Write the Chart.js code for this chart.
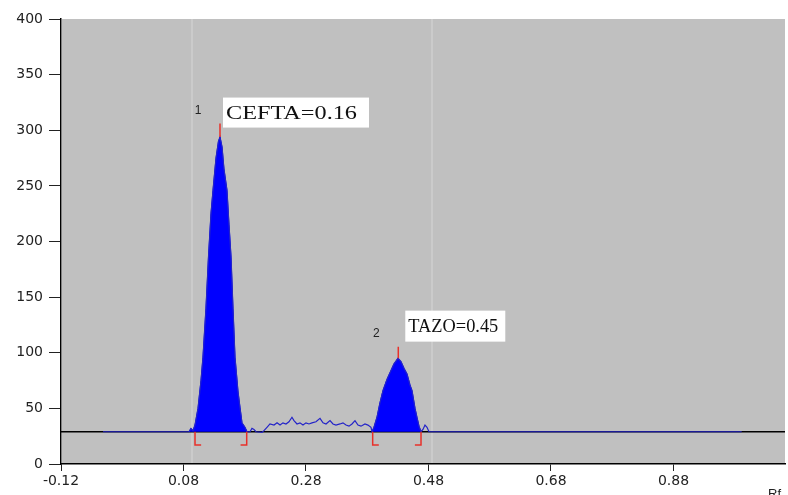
<!DOCTYPE html>
<html>
<head>
<meta charset="utf-8">
<script src="https://cdn.jsdelivr.net/npm/chart.js@4/dist/chart.umd.min.js"></script>
<style>
  body { margin: 0; background: #fff; }
  #wrap { width: 788px; height: 495px; }
</style>
</head>
<body>
<div id="wrap"><canvas id="tlc"></canvas></div>
<script>
// axis
const xMin = -0.12, xMax = 1.0621;
const xTickValues = [-0.12, 0.08, 0.28, 0.48, 0.68, 0.88];
const baseline = 29;
const trackLines = [0.0939, 0.4857];

// densitogram trace (Rf, AU)
const leadRf = [-0.0514];
const leadY = [29];
const peak1Rf = [0.0890, 0.0922, 0.0955, 0.0988, 0.1037, 0.1086, 0.1118, 0.1167, 0.1208, 0.1249, 0.1282, 0.1331, 0.1371,
  0.1396, 0.1429, 0.1461, 0.1510, 0.1543, 0.1576, 0.1608, 0.1641, 0.1690, 0.1722, 0.1755, 0.1804, 0.1837];
const peak1Y = [29, 32, 30, 35, 50, 75, 96, 140, 186, 225, 246, 275, 290,
  294, 285, 265, 246, 215, 186, 140, 96, 65, 51, 37, 33, 29];
const noiseRf = [0.1886, 0.1918, 0.1951, 0.1984, 0.2082, 0.2114, 0.2163, 0.2212, 0.2278, 0.2327, 0.2376, 0.2424, 0.2473,
  0.2522, 0.2571, 0.2604, 0.2653, 0.2702, 0.2751, 0.2800, 0.2849, 0.2898, 0.2963, 0.3029, 0.3078, 0.3127, 0.3192,
  0.3241, 0.3290, 0.3355, 0.3404, 0.3453, 0.3502, 0.3551, 0.3600, 0.3649, 0.3698, 0.3763, 0.3812, 0.3861];
const noiseY = [29, 32, 31, 29, 28.5, 30, 33, 36, 35, 37, 35, 37, 36,
  38, 42, 39, 36, 37, 35, 37, 36, 37, 38, 41, 37, 36, 39,
  36, 35, 36, 37, 35, 34, 36, 39, 35, 34, 36, 35, 33];
const peak2Rf = [0.3878, 0.3910, 0.3959, 0.4008, 0.4057, 0.4122, 0.4171, 0.4237, 0.4302, 0.4351, 0.4400, 0.4449,
  0.4498, 0.4531, 0.4580, 0.4612, 0.4645, 0.4678];
const peak2Y = [29, 33, 42, 55, 66, 76, 82, 90, 95, 92, 86, 81, 71, 66, 50, 42, 34, 29];
const tailRf = [0.4710, 0.4743, 0.4776, 0.4808, 0.9914];
const tailY = [31, 35, 33, 29, 29];

// integration marks
const peakStart = [0.0988, 0.3889];
const peakEnd = [0.1832, 0.4678];
const bracketLow = 17;
const apexRf = [0.1396, 0.4307];
const apexY = [294, 95];
const apexTickTop = [306, 105.5];
const peakNumbers = ["1", "2"];
const peakNames = ["CEFTA=0.16", "TAZO=0.45"];

const pts = (xs, ys) => xs.map((x, i) => ({ x: x, y: ys[i] }));

const trace = pts(leadRf, leadY).concat(pts(peak1Rf, peak1Y), pts(noiseRf, noiseY), pts(peak2Rf, peak2Y), pts(tailRf, tailY));

const brackets = [];
peakStart.forEach((s, i) => {
  const e = peakEnd[i];
  brackets.push({ x: s, y: baseline }, { x: s, y: bracketLow }, { x: s + 0.01, y: bracketLow }, { x: s, y: null });
  brackets.push({ x: e, y: baseline }, { x: e, y: bracketLow }, { x: e - 0.01, y: bracketLow }, { x: e, y: null });
});
const apexTicks = [];
apexRf.forEach((x, i) => {
  apexTicks.push({ x: x, y: apexY[i] }, { x: x, y: apexTickTop[i] }, { x: x, y: null });
});

// grey plot area plus the two faint track lines
const plotBg = {
  id: "plotBg",
  beforeDatasetsDraw(chart) {
    const { ctx, chartArea: a } = chart;
    ctx.save();
    ctx.fillStyle = "#c0c0c0";
    ctx.fillRect(a.left + 1, a.top, a.right - a.left - 1, a.bottom - a.top - 1);
    ctx.strokeStyle = "#cbcbcb";
    ctx.lineWidth = 2;
    trackLines.forEach(v => {
      const px = chart.scales.x.getPixelForValue(v);
      ctx.beginPath();
      ctx.moveTo(px, a.top);
      ctx.lineTo(px, a.bottom - 1);
      ctx.stroke();
    });
    ctx.restore();
  }
};

const peakLabels = {
  id: "peakLabels",
  afterDatasetsDraw(chart) {
    const { ctx } = chart;
    const xs = chart.scales.x, ys = chart.scales.y;
    // box offsets from apex tick top, and the text width seen in the scan
    const boxes = [{ dx: 3, dy: -26, w: 146, h: 30, tw: 131 }, { dx: 7, dy: -36, w: 100, h: 31, tw: 90 }];
    ctx.save();
    apexRf.forEach((rf, i) => {
      const px = xs.getPixelForValue(rf);
      const top = ys.getPixelForValue(apexTickTop[i]);
      ctx.fillStyle = "#222";
      ctx.font = "12px 'Liberation Sans', Arial";
      ctx.textAlign = "center";
      ctx.textBaseline = "middle";
      ctx.fillText(peakNumbers[i], px - 22, top - 13);

      const b = boxes[i];
      ctx.fillStyle = "#ffffff";
      ctx.fillRect(px + b.dx, top + b.dy, b.w, b.h);
      ctx.fillStyle = "#111";
      ctx.font = "19px 'Liberation Serif', 'Times New Roman', serif";
      ctx.textAlign = "left";
      ctx.textBaseline = "alphabetic";
      const sx = b.tw / ctx.measureText(peakNames[i]).width;
      ctx.save();
      ctx.translate(px + b.dx + 3, top + b.dy + 21);
      ctx.scale(sx, 1);
      ctx.fillText(peakNames[i], 0, 0);
      ctx.restore();
    });
    ctx.fillStyle = "#222";
    ctx.font = "13px 'Liberation Sans', Arial";
    ctx.textAlign = "left";
    ctx.textBaseline = "alphabetic";
    ctx.fillText("Rf", 768, 498);
    ctx.restore();
  }
};

new Chart(document.getElementById("tlc"), {
  type: "scatter",
  data: {
    datasets: [
      {
        data: apexTicks, showLine: true, borderColor: "#e8302a", borderWidth: 1.5,
        pointRadius: 0, spanGaps: false, order: 1
      },
      {
        data: brackets, showLine: true, borderColor: "#e8302a", borderWidth: 1.5,
        pointRadius: 0, spanGaps: false, order: 2
      },
      {
        data: trace, showLine: true, borderColor: "#2323c8", borderWidth: 1.2,
        pointRadius: 0, order: 3
      },
      {
        data: pts(peak1Rf, peak1Y), showLine: true, borderColor: "#0000ff", borderWidth: 1,
        backgroundColor: "#0000ff", fill: { value: baseline }, pointRadius: 0, order: 4
      },
      {
        data: pts(peak2Rf, peak2Y), showLine: true, borderColor: "#0000ff", borderWidth: 1,
        backgroundColor: "#0000ff", fill: { value: baseline }, pointRadius: 0, order: 4
      },
      {
        data: [{ x: xMin, y: baseline }, { x: xMax, y: baseline }], showLine: true,
        borderColor: "#000", borderWidth: 1.5, pointRadius: 0, order: 5
      }
    ]
  },
  options: {
    responsive: true,
    maintainAspectRatio: false,
    animation: false,
    layout: { padding: { top: 19, right: 3, left: 0, bottom: 0 } },
    plugins: { legend: { display: false }, tooltip: { enabled: false } },
    scales: {
      x: {
        type: "linear",
        min: xMin,
        max: xMax,
        afterBuildTicks: s => { s.ticks = xTickValues.map(v => ({ value: v })); },
        afterFit: s => { s.height = 31; },
        ticks: {
          maxRotation: 0,
          autoSkip: false,
          padding: 2,
          color: "#222",
          font: { family: "'DejaVu Sans'", size: 14 },
          callback: v => v.toFixed(2)
        },
        grid: {
          color: "rgba(0,0,0,0)",
          tickColor: "#222",
          tickLength: 7,
          tickWidth: 1
        },
        border: { display: true, color: "#000", width: 1.5 }
      },
      y: {
        min: 0,
        max: 400,
        afterFit: s => { s.width = 61; },
        ticks: {
          stepSize: 50,
          padding: 6,
          color: "#222",
          font: { family: "'DejaVu Sans'", size: 14 }
        },
        grid: {
          color: "rgba(0,0,0,0)",
          tickColor: "#222",
          tickLength: 12,
          tickWidth: 1
        },
        border: { display: true, color: "#000", width: 1.5 }
      }
    }
  },
  plugins: [plotBg, peakLabels]
});
</script>
</body>
</html>
